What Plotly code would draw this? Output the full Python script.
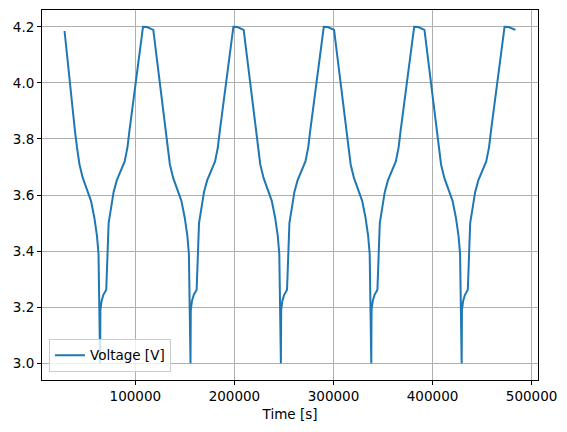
import plotly.graph_objects as go

# Time [s] and Voltage [V] (five charge/discharge cycles)
time_s = [
    28500,
    34100, 39000, 41100, 43600, 46900, 51700, 55200, 58600, 61200, 62800, 63700,
    64400, 64700, 65900, 67600, 70600, 73000, 75000, 78000, 81200, 85400, 89200, 92000, 94000, 107700, 111700, 118100,
    125350, 130250, 132350, 134850, 138150, 142950, 146450, 149850, 152450, 154050, 154950,
    155650, 155950, 157150, 158850, 161850, 164250, 166250, 169250, 172450, 176650, 180450, 183250, 185250, 198950, 202950, 209350,
    216600, 221500, 223600, 226100, 229400, 234200, 237700, 241100, 243700, 245300, 246200,
    246900, 247200, 248400, 250100, 253100, 255500, 257500, 260500, 263700, 267900, 271700, 274500, 276500, 290200, 294200, 300600,
    307850, 312750, 314850, 317350, 320650, 325450, 328950, 332350, 334950, 336550, 337450,
    338150, 338450, 339650, 341350, 344350, 346750, 348750, 351750, 354950, 359150, 362950, 365750, 367750, 381450, 385450, 391850,
    399100, 404000, 406100, 408600, 411900, 416700, 420200, 423600, 426200, 427800, 428700,
    429400, 429700, 430900, 432600, 435600, 438000, 440000, 443000, 446200, 450400, 454200, 457000, 459000, 472700, 476700, 483700,
]
voltage_v = [
    4.185,
    3.985, 3.829, 3.769, 3.709, 3.661, 3.614, 3.579, 3.519, 3.455, 3.390, 3.220,
    3.000, 3.190, 3.222, 3.243, 3.262, 3.500, 3.548, 3.610, 3.652, 3.685, 3.720, 3.770, 3.829, 4.200, 4.199, 4.189,
    3.985, 3.829, 3.769, 3.709, 3.661, 3.614, 3.579, 3.519, 3.455, 3.390, 3.220,
    3.000, 3.190, 3.222, 3.243, 3.262, 3.500, 3.548, 3.610, 3.652, 3.685, 3.720, 3.770, 3.829, 4.200, 4.199, 4.189,
    3.985, 3.829, 3.769, 3.709, 3.661, 3.614, 3.579, 3.519, 3.455, 3.390, 3.220,
    3.000, 3.190, 3.222, 3.243, 3.262, 3.500, 3.548, 3.610, 3.652, 3.685, 3.720, 3.770, 3.829, 4.200, 4.199, 4.189,
    3.985, 3.829, 3.769, 3.709, 3.661, 3.614, 3.579, 3.519, 3.455, 3.390, 3.220,
    3.000, 3.190, 3.222, 3.243, 3.262, 3.500, 3.548, 3.610, 3.652, 3.685, 3.720, 3.770, 3.829, 4.200, 4.199, 4.189,
    3.985, 3.829, 3.769, 3.709, 3.661, 3.614, 3.579, 3.519, 3.455, 3.390, 3.220,
    3.000, 3.190, 3.222, 3.243, 3.262, 3.500, 3.548, 3.610, 3.652, 3.685, 3.720, 3.770, 3.829, 4.200, 4.199, 4.189,
]

x_ticks = [100000, 200000, 300000, 400000, 500000]
x_tick_labels = ["100000", "200000", "300000", "400000", "500000"]
y_ticks = [3.0, 3.2, 3.4, 3.6, 3.8, 4.0, 4.2]
y_tick_labels = ["3.0", "3.2", "3.4", "3.6", "3.8", "4.0", "4.2"]

series_name = "Voltage [V]"
x_title = "Time [s]"

tmin, tmax = min(time_s), max(time_s)
vmin, vmax = min(voltage_v), max(voltage_v)
tpad = 0.05 * (tmax - tmin)
vpad = 0.05 * (vmax - vmin)

FONT = dict(family="DejaVu Sans", size=13.5, color="black")

fig = go.Figure()
fig.add_trace(go.Scatter(
    x=time_s, y=voltage_v, mode="lines", name=series_name,
    line=dict(color="#1f77b4", width=2),
))

axis_common = dict(
    showline=True, mirror=True, linecolor="black", linewidth=1,
    ticks="outside", ticklen=4, tickwidth=1, tickcolor="black",
    showgrid=True, gridcolor="#b0b0b0", gridwidth=1,
    zeroline=False,
    tickfont=FONT,
)

fig.update_layout(
    width=567, height=432,
    margin=dict(l=42, r=29, t=10, b=52),
    paper_bgcolor="white", plot_bgcolor="white",
    font=FONT,
    showlegend=True,
    legend=dict(
        x=0.014, y=0.022, xanchor="left", yanchor="bottom",
        bgcolor="rgba(255,255,255,0.8)", bordercolor="#cccccc", borderwidth=1,
        font=FONT,
    ),
    xaxis=dict(
        range=[tmin - tpad, tmax + tpad],
        tickvals=x_ticks, ticktext=x_tick_labels,
        title=dict(text=x_title, standoff=6, font=FONT),
        **axis_common,
    ),
    yaxis=dict(
        range=[vmin - vpad, vmax + vpad],
        tickvals=y_ticks, ticktext=y_tick_labels,
        **axis_common,
    ),
)

fig.write_html("out.html")
